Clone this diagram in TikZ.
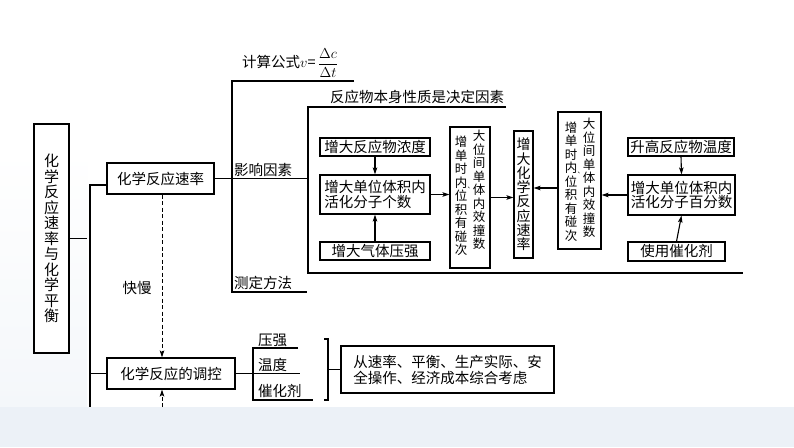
\documentclass[tikz,border=0pt]{standalone}
\usepackage{fontspec}
\setmainfont{Liberation Serif}
\newfontfamily\cn{Noto Sans CJK SC}
\usetikzlibrary{arrows.meta,calc}
\definecolor{bgband}{RGB}{236,241,247}
\definecolor{bgleft}{RGB}{244,247,250}
\begin{document}
\begin{tikzpicture}[x=1pt,y=-1pt,
  ln/.style={line width=1.1pt,black},
  box/.style={draw,line width=1.1pt,inner sep=0pt,fill=white},
  arr/.style={ln,-{Stealth[length=7pt,width=4.5pt,inset=1.5pt]}},
  dsh/.style={line width=1pt,black,dash pattern=on 4pt off 2.5pt,-{Stealth[length=7pt,width=4.5pt,inset=1.5pt]}},
  tx/.style={font=\cn\fontsize{14.5}{15.5}\selectfont,inner sep=0pt},
  col/.style={font=\cn\fontsize{12.5}{13.5}\selectfont,inner sep=0pt,align=center},
  dun/.style={font=\cn\fontsize{6.5}{6.5}\selectfont,inner sep=0pt,anchor=south west},
  two/.style={font=\cn\fontsize{14.5}{14.5}\selectfont,align=left,inner sep=0pt}]
\useasboundingbox (0,0) rectangle (794,447);
\fill[white] (0,0) rectangle (794,447);
\shade[top color=white,bottom color=bgleft] (0,150) rectangle (87,407);
\fill[bgband] (0,407) rectangle (794,447);

% coordinates
\coordinate (tb) at (90,407);
\coordinate (b1) at (90,185);
\coordinate (dx) at (162,0);
\coordinate (vt) at (232,81);
\coordinate (vb) at (232,292);
\coordinate (ve) at (354,81);
\coordinate (vbe) at (307,292);
\coordinate (fl) at (308,107);
\coordinate (ft) at (506,107);
\coordinate (fb) at (308,273);
\coordinate (fbe) at (743,273);
\coordinate (y188) at (0,188);

% main nodes
\node[box,minimum width=35pt,minimum height=229pt,align=center,
  font=\cn\fontsize{15}{15.5}\selectfont] (main) at (51.5,238.5)
  {化\\学\\反\\应\\速\\率\\与\\化\\学\\平\\衡};
\node[box,minimum width=107pt,minimum height=31pt,tx] (rate) at (160.5,178.5) {化学反应速率};
\node[box,minimum width=128pt,minimum height=31pt,tx] (ctrl) at (171,373.5) {化学反应的调控};

% left trunk
\draw[ln] (main.east) -- ++(17,0);
\draw[ln] (rate.west |- b1) -- (b1) -- (tb);
\draw[ln] (ctrl.west) -- (ctrl.west -| tb);
\draw[dsh] (rate.south -| dx) -- (ctrl.north -| dx);
\draw[dsh] (dx |- tb) -- (ctrl.south -| dx);
\node[tx] (km) at (137,288) {快慢};

% rate branches
\draw[ln] (rate.east) -- (rate.east -| fl);
\draw[ln] (ve) -- (vt) -- (vb) -- (vbe);
\node[tx,anchor=west] (formula) at (242,63) {计算公式$v$=\,$\displaystyle\frac{\Delta c}{\Delta t}$};
\node[tx] (yx) at (263,170) {影响因素};
\node[tx] (cd) at (263,283) {测定方法};

% frame
\draw[ln] (ft) -- (fl) -- (fb) -- (fbe);
\node[tx] (fy) at (417,97) {反应物本身性质是决定因素};

% inner boxes
\node[box,minimum width=110pt,minimum height=18pt,tx] (c1) at (375,147) {增大反应物浓度};
\node[box,minimum width=110pt,minimum height=39pt,two] (c2) at (375,194.5) {增大单位体积内\\活化分子个数};
\node[box,minimum width=110pt,minimum height=18pt,tx] (c3) at (375,251) {增大气体压强};
\node[box,minimum width=40pt,minimum height=141pt] (t1) at (470,197.5) {};
\node[col] (t1l) at (461,196) {增\\单\\时\\内\\位\\积\\有\\碰\\次};
\node[col] (t1r) at (479,190) {大\\位\\间\\单\\体\\内\\效\\撞\\数};
\node[dun] (t1d) at (467.4,189) {、};
\node[box,minimum width=19pt,minimum height=127pt,align=center,
  font=\cn\fontsize{14}{14.3}\selectfont] (r) at (523.5,194.5)
  {增\\大\\化\\学\\反\\应\\速\\率};
\node[box,minimum width=43pt,minimum height=137pt] (t2) at (579.5,180.5) {};
\node[col] (t2l) at (571,181.5) {增\\单\\时\\内\\位\\积\\有\\碰\\次};
\node[col] (t2r) at (589,178) {大\\位\\间\\单\\体\\内\\效\\撞\\数};
\node[dun] (t2d) at (577.4,174.5) {、};
\node[box,minimum width=106pt,minimum height=18pt,tx] (h1) at (681,147) {升高反应物温度};
\node[box,minimum width=107pt,minimum height=40pt,two] (h2) at (681.5,195) {增大单位体积内\\活化分子百分数};
\node[box,minimum width=97pt,minimum height=19pt,tx] (h3) at (676.5,251.5) {使用催化剂};

% inner arrows
\draw[arr] (c1.south) -- (c2.north);
\draw[arr] (c3.north) -- (c2.south);
\draw[arr] (c2.east) -- (t1.west |- c2.east);
\draw[arr] (t1.east) -- (r.west |- t1.east);
\draw[arr] (t2.west |- y188) -- (r.east |- y188);
\draw[arr] (h2.west) -- (t2.east |- h2.west);
\draw[arr] (h1.south) -- (h2.north);
\draw[arr] (h3.north) -- (h2.south);

% regulation
\node[tx,anchor=west] (p1) at (258,340) {压强};
\node[tx,anchor=west] (p2) at (258,365) {温度};
\node[tx,anchor=west] (p3) at (258,391) {催化剂};
\coordinate (l1) at (253,348);
\coordinate (l1e) at (298,348);
\coordinate (l3) at (253,400);
\coordinate (l3e) at (313,400);
\coordinate (l2e) at (300,373.5);
\draw[ln] (ctrl.east) -- (l2e);
\draw[ln] (l1e) -- (l1) -- (l3) -- (l3e);
\node[box,minimum width=213pt,minimum height=47pt,two,
  font=\cn\fontsize{14.5}{16}\selectfont] (adv) at (447.5,369.5)
  {从速率、平衡、生产实际、安\\全操作、经济成本综合考虑};
\coordinate (rb1) at (324,339);
\coordinate (rb2) at (328,339);
\coordinate (rb3) at (328,400);
\coordinate (rb4) at (324,400);
\draw[ln] (rb1) -- (rb2) -- (rb3) -- (rb4);
\draw[ln] (adv.west -| rb2) -- (adv.west);
\end{tikzpicture}
\end{document}
